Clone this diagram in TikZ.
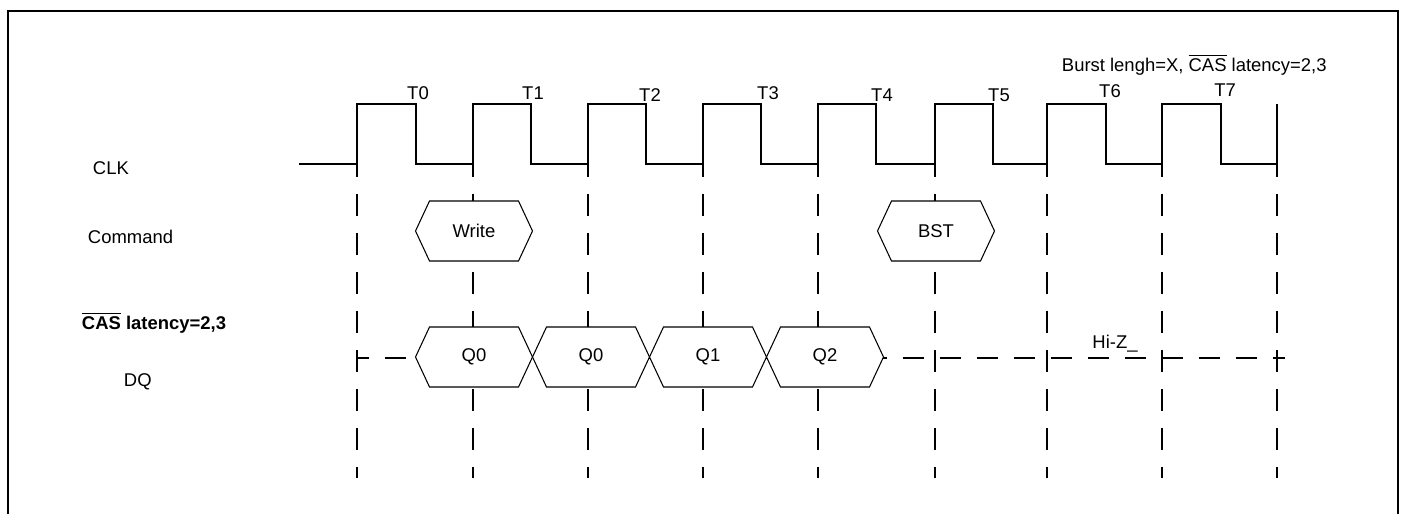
\documentclass[tikz,border=0pt]{standalone}
\usepackage{amsmath}
\usepackage{fontspec}
\setmainfont{Liberation Sans}
\usepackage{tikz}
\def\gridline#1{\draw[grid] (#1,155) -- (#1,478);}
\def\hexa#1#2#3#4{\draw[hexline] (#1-58.5,#2) -- (#1-44.5,#2-30) -- (#1+44.5,#2-30) -- (#1+58.5,#2) -- (#1+44.5,#2+30) -- (#1-44.5,#2+30) -- cycle;
  \node (#3) at (#1,#2) {#4};}

\begin{document}
\begin{tikzpicture}[x=0.02cm,y=-0.02cm,line width=1.1pt,font=\fontsize{10.5}{12}\selectfont,
  grid/.style={dash pattern=on 0.44cm off 0.34cm},
  hexline/.style={line width=0.6pt,fill=white},
  lbl/.style={anchor=west,inner sep=0pt}]
  \useasboundingbox (0,0) rectangle (1403,514);
  \draw[line width=1.3pt] (8,514) -- (8,11) -- (1398,11) -- (1398,514);
  \gridline{357} \gridline{473} \gridline{588} \gridline{703} \gridline{818}
  \gridline{935} \gridline{1047} \gridline{1162} \gridline{1277}
  \draw[dash pattern=on 0.42cm off 0.32cm,dash phase=0.18cm] (357,358) -- (1285,358);
  \draw (299,164) -- (357,164) -- (357,104) -- (416,104) -- (416,164) -- (473,164) -- (473,104)
    -- (531,104) -- (531,164) -- (588,164) -- (588,104) -- (646,104) -- (646,164) -- (703,164)
    -- (703,104) -- (761,104) -- (761,164) -- (818,164) -- (818,104) -- (876,104) -- (876,164)
    -- (935,164) -- (935,104) -- (993,104) -- (993,164) -- (1047,164) -- (1047,104) -- (1106,104)
    -- (1106,164) -- (1162,164) -- (1162,104) -- (1221,104) -- (1221,164) -- (1277,164) -- (1277,104);
  \hexa{474}{231}{write}{Write}
  \hexa{936}{231}{bst}{BST}
  \hexa{474}{357}{qa}{Q0}
  \hexa{591}{357}{qb}{Q0}
  \hexa{708}{357}{qc}{Q1}
  \hexa{825}{357}{qd}{Q2}
  \node (t0) at (418,93) {T0};
  \node (t1) at (533,93) {T1};
  \node (t2) at (650,95) {T2};
  \node (t3) at (768,93) {T3};
  \node (t4) at (882,95) {T4};
  \node (t5) at (999,95) {T5};
  \node (t6) at (1110,91) {T6};
  \node (t7) at (1225,90) {T7};
  \node[lbl] (burst) at (1061,65) {Burst lengh=X, $\overline{\text{CAS}}$ latency=2,3};
  \node[lbl] (clk) at (92,168) {CLK};
  \node[lbl] (cmd) at (87,237) {Command};
  \node[lbl] (cas) at (81,323) {\textbf{$\overline{\text{CAS}}$ latency=2,3}};
  \node[lbl] (dq) at (123,382) {DQ};
  \node (hiz) at (1115,344) {Hi-Z\_};
\end{tikzpicture}
\end{document}
